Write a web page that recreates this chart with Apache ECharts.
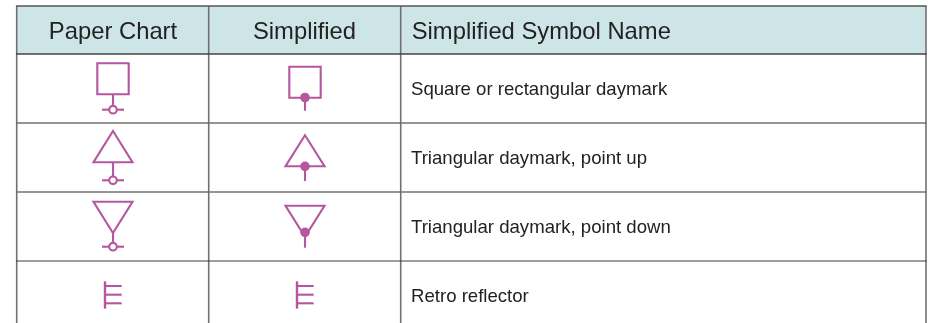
<!DOCTYPE html>
<html>
<head>
<meta charset="utf-8">
<style>html,body{margin:0;padding:0;background:#fff}#c{width:929px;height:323px}</style>
<script src="https://cdn.jsdelivr.net/npm/echarts@6/dist/echarts.min.js"></script>
</head>
<body>
<div id="c"></div>
<script>
const headers = ['Paper Chart', 'Simplified', 'Simplified Symbol Name'];
const symbolNames = ['Square or rectangular daymark', 'Triangular daymark, point up', 'Triangular daymark, point down', 'Retro reflector'];
const symbolKinds = ['square', 'up', 'down', 'retro'];
const columnEdges = [16.7, 208.7, 400.7, 926];
const rowEdges = [6, 54, 123, 192, 261];

const FONT = '"Liberation Sans", Arial, sans-serif';
const PURPLE = '#b5579f';
const LINE = '#707070';
const DARK = '#3c3c3c';
const paperX = 113, simpleX = 305;
const SW = 2.1;

const seg = (x1, y1, x2, y2, w) => ({ type: 'line', shape: { x1, y1, x2, y2 },
  style: { stroke: PURPLE, lineWidth: w || SW, fill: null }, silent: true });
const poly = (pts) => ({ type: 'polygon', shape: { points: pts },
  style: { stroke: PURPLE, lineWidth: SW, fill: 'none' }, silent: true });
const ring = (x, y) => ({ type: 'circle', shape: { cx: x, cy: y, r: 3.8 },
  style: { stroke: PURPLE, lineWidth: SW, fill: '#fff' }, silent: true });
const dot = (x, y) => ({ type: 'circle', shape: { cx: x, cy: y, r: 4.8 },
  style: { fill: PURPLE }, silent: true });

function retro(x, t) {
  return [seg(x - 8, t + 20.3, x - 8, t + 47.7, 2.4),
    seg(x - 8, t + 25, x + 8.7, t + 25), seg(x - 8, t + 33.7, x + 8.7, t + 33.7), seg(x - 8, t + 42.3, x + 8.7, t + 42.3)];
}
function paperBase(x, stemTop, cy) {
  return [seg(x, stemTop, x, cy), seg(x - 11, cy, x + 11, cy), ring(x, cy)];
}
function paperSymbol(kind, t) {
  const x = paperX;
  if (kind === 'square') return [poly([[x - 15.7, t + 9.3], [x + 15.7, t + 9.3], [x + 15.7, t + 40.3], [x - 15.7, t + 40.3]]), ...paperBase(x, t + 40.3, t + 55.7)];
  if (kind === 'up') return [poly([[x, t + 8], [x + 19.5, t + 39.3], [x - 19.5, t + 39.3]]), ...paperBase(x, t + 39.3, t + 57.3)];
  if (kind === 'down') return [poly([[x - 19.5, t + 9.7], [x + 19.5, t + 9.7], [x, t + 41]]), ...paperBase(x, t + 41, t + 54.7)];
  return retro(x, t);
}
function simpleSymbol(kind, t) {
  const x = simpleX;
  if (kind === 'square') return [poly([[x - 15.7, t + 12.7], [x + 15.7, t + 12.7], [x + 15.7, t + 43.7], [x - 15.7, t + 43.7]]), seg(x, t + 43.7, x, t + 56.7), dot(x, t + 43.5)];
  if (kind === 'up') return [poly([[x, t + 12.3], [x + 19.5, t + 43.3], [x - 19.5, t + 43.3]]), seg(x, t + 43.3, x, t + 58), dot(x, t + 43.3)];
  if (kind === 'down') return [poly([[x - 19.5, t + 13.7], [x + 19.5, t + 13.7], [x, t + 44.7]]), seg(x, t + 44.7, x, t + 55.7), dot(x, t + 40.3)];
  return retro(x, t);
}

function renderHeader(params, api) {
  const kids = [];
  const top = api.coord([0, rowEdges[0]])[1], bot = api.coord([0, rowEdges[1]])[1];
  const L = columnEdges[0], R = columnEdges[3];
  kids.push({ type: 'rect', shape: { x: L, y: top, width: R - L, height: bot - top }, style: { fill: '#cee5e7' }, silent: true });
  const cx = [(columnEdges[0] + columnEdges[1]) / 2 + 0.3, (columnEdges[1] + columnEdges[2]) / 2 - 0.2, columnEdges[2] + 11];
  headers.forEach((h, i) => kids.push({ type: 'text', silent: true,
    style: { x: cx[i], y: 32, text: h, fill: '#222', font: '23.8px ' + FONT, textAlign: i < 2 ? 'center' : 'left', textVerticalAlign: 'middle' } }));
  return { type: 'group', children: kids };
}
function renderRow(params, api) {
  const i = api.value(0), t = rowEdges[i + 1];
  const kids = [...paperSymbol(symbolKinds[i], t), ...simpleSymbol(symbolKinds[i], t)];
  kids.push({ type: 'text', silent: true,
    style: { x: 411, y: t + 36.2, text: symbolNames[i], fill: '#222', font: '18.6px ' + FONT, textAlign: 'left', textVerticalAlign: 'middle' } });
  return { type: 'group', children: kids };
}
function renderGrid() {
  const kids = [];
  const h = (y, c, w) => kids.push({ type: 'line', silent: true, shape: { x1: columnEdges[0] - 0.7, y1: y, x2: columnEdges[3] + 0.7, y2: y }, style: { stroke: c, lineWidth: w } });
  const v = (x) => kids.push({ type: 'line', silent: true, shape: { x1: x, y1: rowEdges[0], x2: x, y2: 323 }, style: { stroke: LINE, lineWidth: 1.6 } });
  columnEdges.forEach(v);
  h(rowEdges[0], '#555', 1.3); h(rowEdges[1], '#444', 1.3);
  h(rowEdges[2], LINE, 1.3); h(rowEdges[3], LINE, 1.3); h(rowEdges[4], DARK, 1.2);
  return { type: 'group', children: kids };
}

const chart = echarts.init(document.getElementById('c'), null, { renderer: 'canvas' });
chart.setOption({
  animation: false,
  backgroundColor: '#fff',
  grid: { left: 0, right: 0, top: 0, bottom: 0 },
  xAxis: { type: 'value', min: 0, max: 929, show: false },
  yAxis: { type: 'value', min: 0, max: 323, inverse: true, show: false },
  series: [
    { type: 'custom', coordinateSystem: 'cartesian2d', data: [[0, 0]], renderItem: renderHeader, silent: true, clip: false, z: 1 },
    { type: 'custom', coordinateSystem: 'cartesian2d', data: symbolKinds.map((k, i) => [i, 0]), renderItem: renderRow, silent: true, clip: false, z: 2, encode: { x: 0, y: 1 } },
    { type: 'custom', coordinateSystem: 'cartesian2d', data: [[0, 0]], renderItem: renderGrid, silent: true, clip: false, z: 3 }
  ]
});
</script>
</body>
</html>
